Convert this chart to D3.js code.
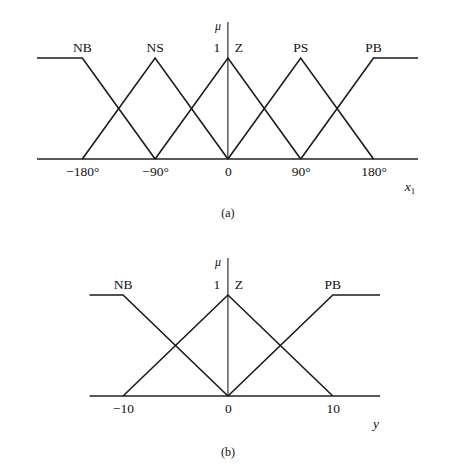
<!DOCTYPE html>
<html><head><meta charset="utf-8">
<script src="https://cdn.jsdelivr.net/npm/d3@7"></script>
<style>body{margin:0;background:#fff}svg{display:block}text{font-family:"Liberation Serif","Times New Roman",serif;fill:#111}</style>
</head><body>
<svg id="c" width="455" height="469"></svg>
<script>
// Chart (a): x1 in degrees
const aLabels = ["NB","NS","Z","PS","PB"];
const aPeaks = [-180,-90,0,90,180];
const aTicks = [-180,-90,0,90,180];
const aTickLabels = ["\u2212180\u00b0","\u221290\u00b0","0","90\u00b0","180\u00b0"];
const aSets = [
  [[-236,1],[-180,1],[-90,0]],
  [[-180,0],[-90,1],[0,0]],
  [[-90,0],[0,1],[90,0]],
  [[0,0],[90,1],[180,0]],
  [[90,0],[180,1],[235,1]]
];
// Chart (b): y
const bLabels = ["NB","Z","PB"];
const bPeaks = [-10,0,10];
const bTicks = [-10,0,10];
const bTickLabels = ["\u221210","0","10"];
const bSets = [
  [[-13.2,1],[-10,1],[0,0]],
  [[-10,0],[0,1],[10,0]],
  [[0,0],[10,1],[14.5,1]]
];

const svg = d3.select("#c");
const FS = 13.5;

function panel(cfg){
  const g = svg.append("g");
  const x = d3.scaleLinear().domain(cfg.domain).range(cfg.xr);
  const y = d3.scaleLinear().domain([0,1]).range([cfg.y0, cfg.y1]);
  const ax = g.append("g").attr("transform",`translate(0,${cfg.y0})`)
    .call(d3.axisBottom(x).tickValues(cfg.ticks).tickSize(0).tickPadding(0)
      .tickFormat((d,i)=>cfg.tickLabels[i]));
  ax.select(".domain").attr("stroke","#222").attr("stroke-width",1.3).attr("d",`M${cfg.xr[0]},0H${cfg.xr[1]}`);
  ax.selectAll("text").attr("font-family","Liberation Serif, serif").attr("font-size",FS).attr("fill","#111").attr("dy","1.25em");
  g.append("line").attr("x1",x(0)).attr("x2",x(0)).attr("y1",cfg.yTop).attr("y2",cfg.y0)
    .attr("stroke","#222").attr("stroke-width",1.1);
  const line = d3.line().x(d=>x(d[0])).y(d=>y(d[1]));
  g.selectAll("path.mf").data(cfg.sets).join("path").attr("class","mf")
    .attr("d",line).attr("fill","none").attr("stroke","#1a1a1a").attr("stroke-width",1.6);
  g.selectAll("text.lab").data(cfg.labels).join("text").attr("class","lab")
    .attr("x",(d,i)=> d==="Z" ? x(0)+11 : x(cfg.peaks[i]))
    .attr("y",y(1)-cfg.labOff).attr("text-anchor","middle").attr("font-size",FS).text(d=>d);
  g.append("text").attr("x",x(0)-11).attr("y",y(1)-cfg.labOff).attr("text-anchor","middle").attr("font-size",FS).text("1");
  g.append("text").attr("x",x(0)-10).attr("y",cfg.yTop+8).attr("text-anchor","middle").attr("font-size",12).attr("font-style","italic").text("\u03bc");
  const vl = g.append("text").attr("x",cfg.varX).attr("y",cfg.varY).attr("font-size",FS).attr("font-style","italic").attr("text-anchor","middle");
  vl.append("tspan").text(cfg.varName);
  if(cfg.varSub) vl.append("tspan").attr("font-style","normal").attr("font-size",9).attr("dy",3).text(cfg.varSub);
  g.append("text").attr("x",x(0)).attr("y",cfg.capY).attr("text-anchor","middle").attr("font-size",12).text(cfg.caption);
}

panel({domain:[-236,235], xr:[37,418], y0:159, y1:58, yTop:22, ticks:aTicks, tickLabels:aTickLabels,
  sets:aSets, labels:aLabels, peaks:aPeaks, labOff:6.5, varName:"x", varSub:"1", varX:410, varY:191, capY:217, caption:"(a)"});
panel({domain:[-13.2,14.5], xr:[89.5,380], y0:396, y1:295, yTop:258, ticks:bTicks, tickLabels:bTickLabels,
  sets:bSets, labels:bLabels, peaks:bPeaks, labOff:6, varName:"y", varSub:null, varX:376, varY:428, capY:456, caption:"(b)"});
</script>
</body></html>
